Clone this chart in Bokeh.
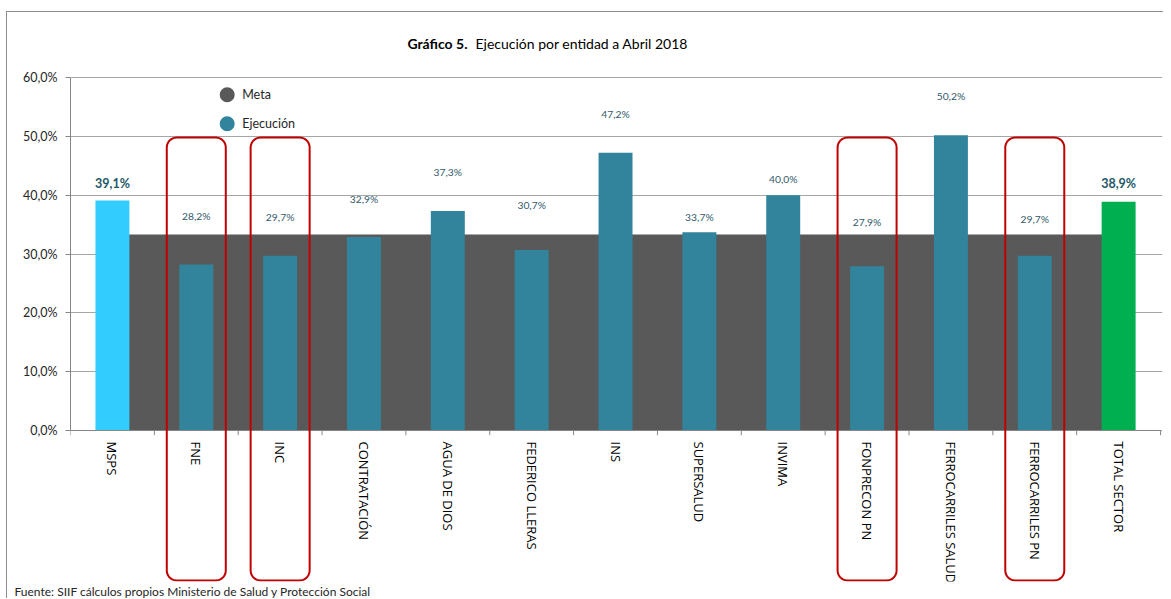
import numpy as np
from bokeh.plotting import figure
from bokeh.models import Range1d, FixedTicker, Title, ColumnDataSource, InlineStyleSheet
from bokeh.core.properties import value
from bokeh.embed import file_html
from bokeh.resources import INLINE

# ---------------- data ----------------
categories = ["MSPS", "FNE", "INC", "CONTRATACIÓN", "AGUA DE DIOS", "FEDERICO LLERAS",
              "INS", "SUPERSALUD", "INVIMA", "FONPRECON PN", "FERROCARRILES SALUD",
              "FERROCARRILES PN", "TOTAL SECTOR"]
ejecucion = [39.1, 28.2, 29.7, 32.9, 37.3, 30.7, 47.2, 33.7, 40.0, 27.9, 50.2, 29.7, 38.9]
meta = [33.3, 33.3, 33.3, 33.3, 33.3, 33.3, 33.3, 33.3, 33.3, 33.3, 33.3, 33.3, 33.3]
y_ticks = [0, 10, 20, 30, 40, 50, 60]
y_tick_labels = ["0,0%", "10,0%", "20,0%", "30,0%", "40,0%", "50,0%", "60,0%"]
highlighted = ["FNE", "INC", "FONPRECON PN", "FERROCARRILES PN"]
series_names = ["Meta", "Ejecución"]
title_bold = "Gráfico 5."
title_rest = "Ejecución  por entidad  a Abril 2018"
source_note = "Fuente:  SIIF cálculos propios Ministerio de Salud y Protección Social"

# manual label heights (in % units) as placed in the original
label_pos = [42.0, 36.5, 36.3, 39.4, 44.0, 38.4, 53.8, 36.3, 42.7, 35.4, 56.9, 36.0, 42.0]

# ---------------- styling / geometry ----------------
# screenshot coordinates (px) of the target layout
OX, OY = 0, 0            # canvas origin as it appears in the screenshot
AX_X = 70                # y axis position
ZERO_Y = 430             # 0 % baseline
PX_X = 83.85             # px per category
PX_Y = 5.8833            # px per percentage point
FRAME_W, FRAME_H = 1092, 581
x_end = FRAME_W / PX_X
y_top = (ZERO_Y - OY) / PX_Y
y_bot = y_top - FRAME_H / PX_Y

META_COLOR = "#595959"
BAR_COLOR = "#31849B"
AXIS_COLOR = "#868686"


def dx(px):
    return (px - AX_X) / PX_X


def dy(py):
    return (ZERO_Y - py) / PX_Y


n = len(categories)
centers = [i + 0.5 for i in range(n)]
colors = [BAR_COLOR] * n
colors[0] = "#33CCFF"
colors[-1] = "#00B050"

# chart-area border (left and top edges, like the spreadsheet chart frame)
border_css = InlineStyleSheet(css="""
:host::after {
  content: "";
  position: absolute;
  left: 6px; top: 11px; right: 0; bottom: 0;
  border-left: 1.5px solid #8c8c8c;
  border-top: 1.5px solid #8c8c8c;
  pointer-events: none;
}
""")

p = figure(frame_width=FRAME_W, frame_height=FRAME_H,
           min_border_left=AX_X - OX, min_border_right=1, min_border_top=0, min_border_bottom=0,
           x_range=Range1d(0, x_end), y_range=Range1d(y_bot, y_top),
           x_axis_location=None, y_axis_location="left",
           output_backend="svg", toolbar_location=None,
           stylesheets=[border_css])
p.outline_line_color = None
p.background_fill_color = "white"
p.border_fill_color = "white"

# y axis
ax = p.yaxis[0]
ax.ticker = FixedTicker(ticks=y_ticks)
ax.major_label_overrides = dict(zip(y_ticks, y_tick_labels))
ax.bounds = (0, 60)
ax.axis_line_color = AXIS_COLOR
ax.major_tick_line_color = AXIS_COLOR
ax.major_tick_out = 5
ax.major_tick_in = 0
ax.minor_tick_line_color = None
ax.major_label_text_font = "Lato"
ax.major_label_text_font_size = "12.5px"
ax.major_label_text_color = "#262626"
ax.major_label_standoff = 8

p.xgrid.visible = False
p.ygrid.ticker = FixedTicker(ticks=y_ticks)
p.ygrid.grid_line_color = "#A6A6A6"
p.ygrid.grid_line_width = 1

# Meta area
p.varea(x=centers, y1=[0] * n, y2=meta, fill_color=META_COLOR)

# Bars
src = ColumnDataSource(dict(x=centers, top=ejecucion, color=colors,
                            lbl=[f"{v:.1f}%".replace(".", ",") for v in ejecucion],
                            ly=label_pos))
p.vbar(x="x", top="top", width=0.405, fill_color="color", line_color=None, source=src)

# x axis line and category-boundary ticks
bounds = list(range(n + 1))
p.segment(x0=0, y0=0, x1=n, y1=0, line_color=AXIS_COLOR, line_width=1)
p.segment(x0=bounds, y0=[0] * len(bounds), x1=bounds, y1=[-0.8] * len(bounds),
          line_color=AXIS_COLOR, line_width=1)

# category labels
p.text(x=centers, y=[dy(441)] * n, text=categories, angle=-np.pi / 2,
       text_align="left", text_baseline="middle",
       text_font=value("Open Sans"), text_font_size="13px", text_color="#000000")

# value labels
small_idx = list(range(1, n - 1))
big_idx = [0, n - 1]
for idxs, size, style, col in [(small_idx, "10.3px", "normal", "#31596B"),
                               (big_idx, "12.5px", "bold", "#215868")]:
    p.text(x=[centers[i] for i in idxs], y=[label_pos[i] for i in idxs],
           text=[src.data["lbl"][i] for i in idxs],
           text_align="center", text_baseline="middle",
           text_font=value("Lato"), text_font_size=size, text_font_style=style,
           text_color=col)


# red rounded highlight boxes
def rounded_rect(cx, hw, yb, yt, rx, ry, k=10):
    xs, ys = [], []
    specs = [((cx + hw - rx, yt - ry), 0, 90), ((cx - hw + rx, yt - ry), 90, 180),
             ((cx - hw + rx, yb + ry), 180, 270), ((cx + hw - rx, yb + ry), 270, 360)]
    for (ccx, ccy), a0, a1 in specs:
        t = np.radians(np.linspace(a0, a1, k))
        xs.extend(ccx + rx * np.cos(t))
        ys.extend(ccy + ry * np.sin(t))
    return xs, ys


bx, by = [], []
for name in highlighted:
    i = categories.index(name)
    xs, ys = rounded_rect(centers[i], 29.5 / PX_X, dy(580), dy(137), 10 / PX_X, 10 / PX_Y)
    bx.append(xs)
    by.append(ys)
p.patches(xs=bx, ys=by, fill_color=None, line_color="#C00000", line_width=2)

# legend (manual)
leg_x = dx(226.7)
leg_y = [dy(94.3), dy(123.3)]
p.scatter(x=[leg_x, leg_x], y=leg_y, size=15, marker="circle",
          fill_color=[META_COLOR, BAR_COLOR], line_color=None)
p.text(x=[dx(241.7)] * 2, y=leg_y, text=series_names,
       text_align="left", text_baseline="middle",
       text_font=value("Lato"), text_font_size="12.5px", text_color="#262626")

# title
ty = dy(43)
p.text(x=[dx(467)], y=[ty], text=[title_bold], text_align="right",
       text_baseline="middle", text_font=value("Lato"), text_font_size="14px",
       text_font_style="bold", text_color="#000000")
p.text(x=[dx(475)], y=[ty], text=[title_rest], text_align="left",
       text_baseline="middle", text_font=value("Lato"), text_font_size="14px",
       text_color="#000000")

# source note (below the frame)
p.add_layout(Title(text=source_note, align="left", offset=14 - AX_X, standoff=0,
                   text_font="Lato", text_font_size="12px", text_font_style="normal",
                   text_color="#262626"), "below")

open("out.html", "w").write(file_html(p, INLINE))
